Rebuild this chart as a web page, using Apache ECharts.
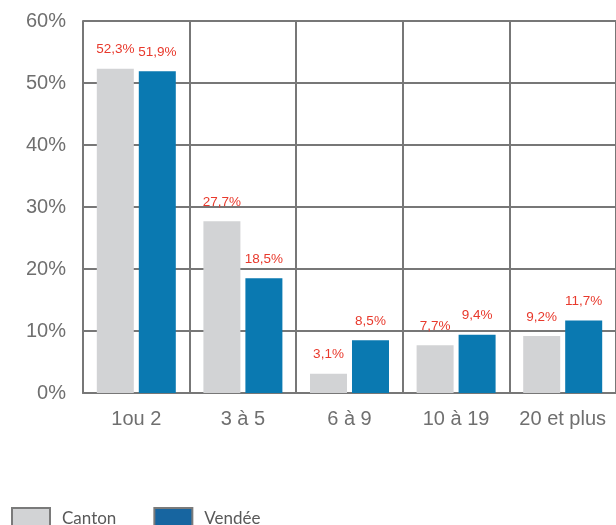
<!DOCTYPE html>
<html>
<head>
<meta charset="utf-8">
<style>html,body{margin:0;padding:0;background:#fff;}#c{width:616px;height:525px;}</style>
<script src="https://cdn.jsdelivr.net/npm/echarts@6/dist/echarts.min.js"></script>
</head>
<body>
<div id="c"></div>
<script>
const categories = ['1ou 2', '3 à 5', '6 à 9', '10 à 19', '20 et plus'];
const canton = [52.3, 27.7, 3.1, 7.7, 9.2];
const vendee = [51.9, 18.5, 8.5, 9.4, 11.7];
const seriesNames = ['Canton', 'Vendée'];

const fmt = v => String(v.value).replace('.', ',') + '%';
const chart = echarts.init(document.getElementById('c'));
const labelStyle = {
  show: true, position: 'top', distance: 12,
  color: '#e8392c', fontSize: 13.5, fontFamily: 'Liberation Sans, Arial, sans-serif',
  formatter: fmt
};
chart.setOption({
  animation: false,
  grid: { left: 83, right: -4, top: 21, bottom: 132, containLabel: false },
  legend: {
    left: 11, top: 507, padding: 0, itemWidth: 38, itemHeight: 22, itemGap: 37,
    icon: 'rect',
    textStyle: { color: '#595959', fontSize: 17, fontFamily: 'Lato, sans-serif', padding: [0, 0, 0, 7] },
    data: [
      { name: 'Canton', itemStyle: { color: '#d2d3d5', borderColor: '#7a7a7a', borderWidth: 2 } },
      { name: 'Vendée', itemStyle: { color: '#1765a0', borderColor: '#7a7a7a', borderWidth: 2 } }
    ]
  },
  xAxis: {
    type: 'category', data: categories, boundaryGap: true,
    axisLine: { show: true, lineStyle: { color: '#777', width: 2 } },
    axisTick: { show: false },
    splitLine: { show: true, interval: 0, lineStyle: { color: '#777', width: 2 } },
    axisLabel: { interval: 0, color: '#6f6f6f', fontSize: 20, margin: 16, fontFamily: 'Liberation Sans, Arial, sans-serif' }
  },
  yAxis: {
    type: 'value', min: 0, max: 60, interval: 10,
    axisLine: { show: true, lineStyle: { color: '#777', width: 2 } },
    axisTick: { show: false },
    splitLine: { show: true, lineStyle: { color: '#777', width: 2 } },
    axisLabel: { color: '#6f6f6f', fontSize: 20, margin: 17, formatter: '{value}%', fontFamily: 'Liberation Sans, Arial, sans-serif' }
  },
  series: [
    { name: seriesNames[0], type: 'bar', data: canton, barWidth: 37, barGap: '13.5%',
      itemStyle: { color: '#d2d3d5' }, label: labelStyle },
    { name: seriesNames[1], type: 'bar', data: vendee, barWidth: 37,
      itemStyle: { color: '#0a79b1' }, label: labelStyle }
  ]
});
</script>
</body>
</html>
